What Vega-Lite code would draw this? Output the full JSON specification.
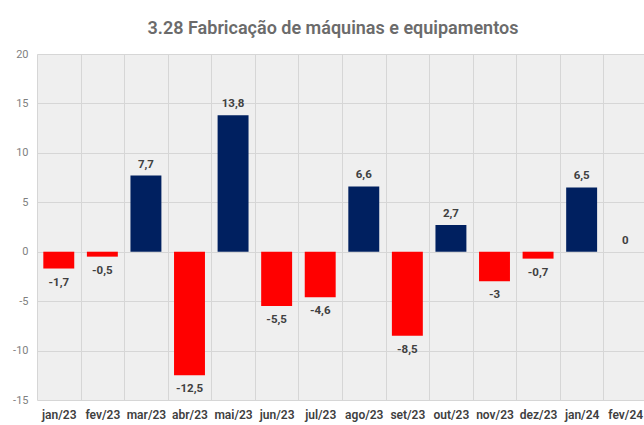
{
  "$schema": "https://vega.github.io/schema/vega-lite/v6.json",
  "autosize": "none",
  "width": 610,
  "height": 346,
  "padding": {"left": 37, "top": 54, "right": 0, "bottom": 25},
  "background": "white",
  "title": {
    "text": "3.28 Fabricação de máquinas e equipamentos",
    "fontSize": 18,
    "font": "Roboto",
    "fontWeight": 600,
    "color": "#6b6b6b",
    "offset": 10,
    "dx": -9
  },
  "config": {
    "font": "Roboto",
    "view": {"fill": "#efefef", "stroke": null},
    "locale": {
      "number": {"decimal": ",", "thousands": ".", "grouping": [3], "currency": ["R$", ""], "minus": "-"}
    }
  },
  "data": {
    "values": [
      {"mes": "jan/23", "value": -1.7},
      {"mes": "fev/23", "value": -0.5},
      {"mes": "mar/23", "value": 7.7},
      {"mes": "abr/23", "value": -12.5},
      {"mes": "mai/23", "value": 13.8},
      {"mes": "jun/23", "value": -5.5},
      {"mes": "jul/23", "value": -4.6},
      {"mes": "ago/23", "value": 6.6},
      {"mes": "set/23", "value": -8.5},
      {"mes": "out/23", "value": 2.7},
      {"mes": "nov/23", "value": -3},
      {"mes": "dez/23", "value": -0.7},
      {"mes": "jan/24", "value": 6.5},
      {"mes": "fev/24", "value": 0}
    ]
  },
  "encoding": {
    "x": {
      "field": "mes", "type": "nominal", "sort": null,
      "scale": {"paddingInner": 0, "paddingOuter": 0},
      "axis": {
        "title": null, "labelAngle": 0, "grid": true, "tickBand": "extent",
        "gridColor": "#d6d6d6", "domain": false, "ticks": false,
        "labelFontSize": 12, "labelFontWeight": 600, "labelColor": "#404040", "labelPadding": 9
      }
    },
    "y": {
      "field": "value", "type": "quantitative",
      "scale": {"domain": [-15, 20], "nice": false},
      "axis": {
        "title": null, "values": [-15, -10, -5, 0, 5, 10, 15, 20], "grid": true,
        "gridColor": "#d6d6d6", "domain": false, "ticks": false,
        "labelFontSize": 11, "labelColor": "#7f7f7f", "labelPadding": 9, "format": "d"
      }
    }
  },
  "layer": [
    {
      "mark": {"type": "bar", "width": {"band": 0.71}},
      "encoding": {
        "color": {"condition": {"test": "datum.value < 0", "value": "#ff0000"}, "value": "#002060"}
      }
    },
    {
      "transform": [{"filter": "datum.value >= 0"}],
      "mark": {"type": "text", "baseline": "bottom", "dy": -6, "fontSize": 11.5, "fontWeight": "bold", "color": "#404040"},
      "encoding": {"text": {"field": "value", "type": "quantitative", "format": ".1~f"}}
    },
    {
      "transform": [{"filter": "datum.value < 0"}],
      "mark": {"type": "text", "baseline": "top", "dy": 8, "fontSize": 11.5, "fontWeight": "bold", "color": "#404040"},
      "encoding": {"text": {"field": "value", "type": "quantitative", "format": ".1~f"}}
    }
  ]
}
